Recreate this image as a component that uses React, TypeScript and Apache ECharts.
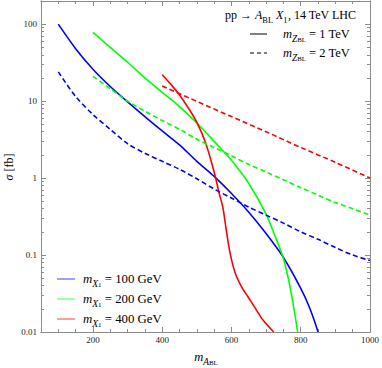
import React, { useEffect, useRef } from 'react';
import * as echarts from 'echarts';

const xMajorTicks = [200, 400, 600, 800, 1000];
const xMinorTicks = [100, 150, 250, 300, 350, 450, 500, 550, 650, 700, 750, 850, 900, 950];
const yMajorTicks = [0.01, 0.1, 1, 10, 100];
const yMinorTicks = [
  0.02, 0.03, 0.04, 0.05, 0.06, 0.07, 0.08, 0.09,
  0.2, 0.3, 0.4, 0.5, 0.6, 0.7, 0.8, 0.9,
  2, 3, 4, 5, 6, 7, 8, 9,
  20, 30, 40, 50, 60, 70, 80, 90,
];

// m_ZBL = 1 TeV (solid)
const blueSolid = [[100, 100], [150, 48], [200, 26], [250, 15.5], [300, 9.8], [350, 6.3], [400, 4.1], [450, 2.7], [500, 1.65], [550, 1.05], [600, 0.63], [650, 0.36], [700, 0.19], [750, 0.093], [800, 0.037], [825, 0.021], [850, 0.01]];
const greenSolid = [[200, 78], [250, 50], [300, 32], [350, 20], [400, 13], [450, 8.5], [500, 5.2], [550, 3.0], [600, 1.7], [650, 0.85], [700, 0.34], [725, 0.18], [750, 0.09], [770, 0.037], [785, 0.015], [791, 0.01]];
const redSolid = [[400, 22], [425, 16.5], [450, 12], [475, 8.2], [500, 5.3], [525, 2.9], [550, 1.2], [565, 0.62], [575, 0.42], [585, 0.21], [596, 0.106], [611, 0.058], [630, 0.038], [648, 0.0285], [670, 0.02], [691, 0.0143], [722, 0.01]];
// m_ZBL = 2 TeV (dashed)
const blueDashed = [[100, 24], [150, 11.5], [200, 6.7], [250, 4.3], [300, 2.8], [350, 2.1], [400, 1.65], [450, 1.3], [500, 0.98], [550, 0.72], [600, 0.55], [650, 0.42], [700, 0.33], [750, 0.26], [800, 0.2], [850, 0.16], [900, 0.125], [950, 0.1], [1000, 0.085]];
const greenDashed = [[200, 21], [250, 14.5], [300, 10], [350, 7.4], [400, 5.6], [450, 4.3], [500, 3.2], [550, 2.5], [600, 1.95], [650, 1.5], [700, 1.2], [750, 0.95], [800, 0.75], [850, 0.6], [900, 0.48], [950, 0.4], [1000, 0.33]];
const redDashed = [[400, 15.7], [500, 9.9], [600, 6.3], [700, 4.0], [800, 2.5], [900, 1.6], [1000, 1.0]];

const legendMass = ['100', '200', '400'];
const legendColors = ['#0000ff', '#00ff00', '#ff0000'];

const F = '"Liberation Serif", "Times New Roman", serif';
const FRAME = '#8c8c8c';

function rich(size: number) {
  return {
    i: { fontFamily: F, fontStyle: 'italic', fontSize: size, lineHeight: 18, verticalAlign: 'middle', fill: '#000' },
    r: { fontFamily: F, fontSize: size, lineHeight: 18, verticalAlign: 'middle', fill: '#000' },
    s: { fontFamily: F, fontStyle: 'italic', fontSize: size * 0.75, lineHeight: 9, verticalAlign: 'bottom', fill: '#000' },
    sr: { fontFamily: F, fontSize: size * 0.7, lineHeight: 9, verticalAlign: 'bottom', fill: '#000' },
    ss: { fontFamily: F, fontSize: size * 0.55, lineHeight: 3, verticalAlign: 'bottom', fill: '#000' },
  };
}

function txt(x: number, y: number, text: string, size: number, align = 'left', rotation = 0) {
  return {
    type: 'text',
    x,
    y,
    rotation,
    style: { text, rich: rich(size), align, verticalAlign: 'middle', fontFamily: F, fontSize: size, fill: '#000' },
  };
}

function fmt(v: number) {
  return v >= 1 ? String(Math.round(v)) : String(+v.toPrecision(1));
}

export default function App() {
  const ref = useRef<HTMLDivElement>(null);
  useEffect(() => {
    if (!ref.current) return;
    const chart = echarts.init(ref.current, undefined, { renderer: 'svg' });
    const lineS = (data: number[][], color: string, dashed: boolean) => ({
      type: 'line',
      data,
      symbol: 'none',
      smooth: 0.3,
      clip: true,
      silent: true,
      lineStyle: { color, width: 1.6, type: dashed ? [5, 3] : 'solid' },
    });
    const xBase = (position: string, ticks: number[], len: number, labels: boolean) => ({
      type: 'value',
      position,
      min: 50,
      max: 1000,
      axisLine: { show: true, lineStyle: { color: FRAME, width: 1 } },
      axisTick: { show: true, inside: true, length: len, customValues: ticks, lineStyle: { color: FRAME } },
      axisLabel: labels
        ? { show: true, customValues: ticks, fontFamily: F, fontSize: 9, color: '#222', margin: 3, formatter: (v: number) => String(v) }
        : { show: false },
      splitLine: { show: false },
    });
    const yBase = (position: string, ticks: number[], len: number, labels: boolean) => ({
      type: 'log',
      logBase: 10,
      position,
      min: 0.01,
      max: 200,
      axisLine: { show: true, lineStyle: { color: FRAME, width: 1 } },
      axisTick: { show: true, inside: true, length: len, customValues: ticks, lineStyle: { color: FRAME } },
      axisLabel: labels
        ? { show: true, customValues: ticks, fontFamily: F, fontSize: 9, color: '#222', margin: 4, formatter: (v: number) => fmt(v) }
        : { show: false },
      splitLine: { show: false },
      minorSplitLine: { show: false },
    });
    const graphics: any[] = [];
    // top-right title/legend
    graphics.push(txt(356, 15, '{r|pp → }{i|A}{sr|BL}{i| X}{sr|1}{r|, 14 TeV LHC}', 12, 'right'));
    graphics.push({ type: 'line', shape: { x1: 250, y1: 34, x2: 267, y2: 34 }, style: { stroke: '#000', lineWidth: 1 } });
    graphics.push(txt(283, 34, '{i|m}{s|Z}{ss|BL}{r| = 1 TeV}', 12.5));
    graphics.push({ type: 'line', shape: { x1: 250, y1: 53, x2: 267, y2: 53 }, style: { stroke: '#000', lineWidth: 1, lineDash: [4, 3] } });
    graphics.push(txt(283, 53, '{i|m}{s|Z}{ss|BL}{r| = 2 TeV}', 12.5));
    // bottom-left legend
    legendMass.forEach((m, k) => {
      const y = 279 + k * 20;
      graphics.push({ type: 'line', shape: { x1: 57, y1: y, x2: 75, y2: y }, style: { stroke: legendColors[k], lineWidth: 1, opacity: 0.75 } });
      graphics.push(txt(83, y, `{i|m}{s|X}{ss|1}{r| = ${m} GeV}`, 12.8));
    });
    // axis names
    graphics.push(txt(206, 357, '{i|m}{s|A}{ss|BL}', 12.5, 'center'));
    graphics.push(txt(9, 167, '{i|σ}{r| [fb]}', 12, 'center', Math.PI / 2));

    chart.setOption({
      animation: false,
      backgroundColor: '#fff',
      grid: { left: 41, right: 9, top: 1, bottom: 36, containLabel: false },
      xAxis: [
        xBase('bottom', xMajorTicks, 5, true),
        xBase('bottom', xMinorTicks, 3, false),
        xBase('top', xMajorTicks, 5, false),
        xBase('top', xMinorTicks, 3, false),
      ],
      yAxis: [
        yBase('left', yMajorTicks, 5, true),
        yBase('left', yMinorTicks, 3, false),
        yBase('right', yMajorTicks, 5, false),
        yBase('right', yMinorTicks, 3, false),
      ],
      series: [
        lineS(blueSolid, '#0000ff', false),
        lineS(greenSolid, '#00ff00', false),
        lineS(redSolid, '#ff0000', false),
        lineS(blueDashed, '#0000ff', true),
        lineS(greenDashed, '#00ff00', true),
        lineS(redDashed, '#ff0000', true),
      ],
      graphic: graphics,
    });
    return () => chart.dispose();
  }, []);
  return <div ref={ref} style={{ position: 'absolute', left: 0, top: 0, width: 382, height: 368 }} />;
}
